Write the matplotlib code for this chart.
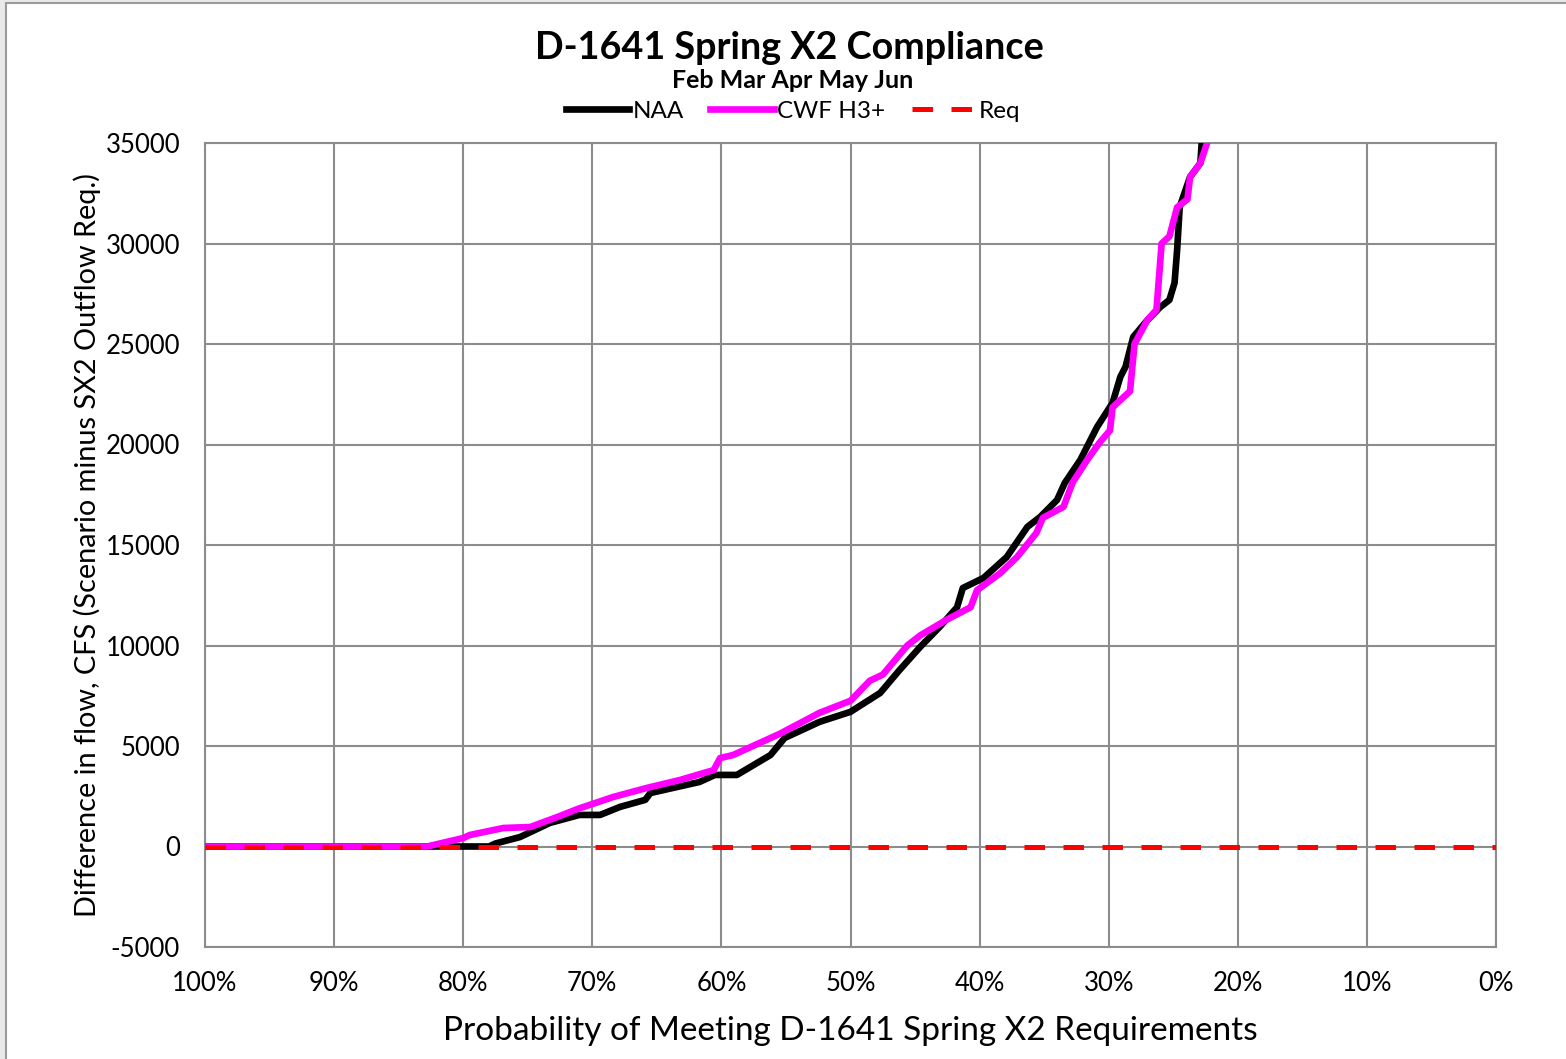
import matplotlib
matplotlib.use("Agg")
import matplotlib.pyplot as plt
from matplotlib.patches import Rectangle

plt.rcParams['font.family'] = ['Lato', 'DejaVu Sans']

# ---- data (probability %, difference in flow cfs) ----
naa_prob = [100, 78.0, 77.5, 75.6, 73.3, 71.0, 69.4, 67.85, 65.9, 65.5, 61.7, 60.5,
            58.8, 56.2, 55.1, 52.4, 50.0, 47.7, 46.2, 44.6, 43.1, 41.75, 41.3, 39.7,
            37.9, 36.3, 35.3, 34.0, 33.4, 32.2, 30.9, 29.7, 29.1, 28.7, 28.1, 27.0,
            26.0, 25.3, 24.9, 24.7, 24.5, 23.7, 22.9, 22.8, 22.0]
naa_vals = [0, 0, 150, 470, 1170, 1570, 1570, 1970, 2320, 2660, 3210, 3560,
            3560, 4550, 5400, 6200, 6700, 7640, 8780, 9930, 10920, 11900, 12860, 13360,
            14400, 15900, 16400, 17240, 18090, 19230, 20870, 22070, 23360, 23860, 25350, 26190,
            26840, 27190, 28040, 29680, 31820, 33310, 34000, 35000, 37000]

cwf_prob = [100, 82.8, 80.0, 79.5, 76.9, 74.8, 72.7, 71.0, 70.2, 68.4, 65.8, 63.2,
            60.6, 60.1, 59.1, 55.5, 52.4, 50.0, 48.5, 47.5, 45.6, 44.6, 42.5, 40.7,
            40.2, 38.4, 37.1, 35.6, 35.1, 33.5, 32.8, 31.7, 30.7, 29.9, 29.7, 28.35,
            28.0, 27.0, 26.3, 25.9, 25.3, 24.7, 23.9, 23.7, 22.9, 22.3, 21.5]
cwf_vals = [0, 0, 420, 570, 920, 970, 1470, 1900, 2070, 2460, 2910, 3310,
            3800, 4400, 4550, 5600, 6650, 7250, 8250, 8550, 10000, 10500, 11300, 11900,
            12750, 13600, 14400, 15600, 16350, 16900, 18100, 19200, 20100, 20700, 21850, 22650,
            25000, 26200, 26700, 30000, 30350, 31800, 32200, 33300, 34000, 35150, 37000]

req_prob = [100, 0]
req_vals = [0, 0]

x_ticks = [100, 90, 80, 70, 60, 50, 40, 30, 20, 10, 0]
x_tick_labels = ['100%', '90%', '80%', '70%', '60%', '50%', '40%', '30%', '20%', '10%', '0%']
y_ticks = [-5000, 0, 5000, 10000, 15000, 20000, 25000, 30000, 35000]
y_tick_labels = ['-5000', '0', '5000', '10000', '15000', '20000', '25000', '30000', '35000']

W, H = 1566, 1059
fig = plt.figure(figsize=(W / 100, H / 100), dpi=100)
fig.patch.set_facecolor('#e9e9e9')
bg = Rectangle((6 / W, -0.05), 1.05, 1.05 - 3 / H, transform=fig.transFigure,
               facecolor='white', edgecolor='#9a9a9a', linewidth=1.5, zorder=-10)
fig.patches.append(bg)

ax = fig.add_axes([205 / W, 1 - 947 / H, (1496 - 205) / W, (947 - 143) / H], zorder=2)
ax.set_facecolor('white')

grid_c = '#8c8c8c'
ax.plot(naa_prob, naa_vals, color='black', lw=4.8, label='NAA', zorder=3, solid_joinstyle='round')
ax.plot(cwf_prob, cwf_vals, color='#ff00ff', lw=4.8, label='CWF H3+', zorder=4, solid_joinstyle='round')
ax.plot(req_prob, req_vals, color='#ff0000', lw=3.6, dashes=(4.1, 3.7), label='Req', zorder=5,
        dash_capstyle='butt')

ax.set_xlim(100, 0)
ax.set_ylim(-5000, 35000)
ax.set_xticks(x_ticks)
ax.set_xticklabels(x_tick_labels)
ax.set_yticks(y_ticks)
ax.set_yticklabels(y_tick_labels)
ax.tick_params(axis='both', length=0, labelsize=18.5, colors='black')
ax.tick_params(axis='y', pad=18)
ax.tick_params(axis='x', pad=17)
ax.grid(True, color=grid_c, lw=1.5, zorder=1)
ax.set_axisbelow(True)
for s in ax.spines.values():
    s.set_color(grid_c)
    s.set_linewidth(1.5)

ax.set_xlabel('Probability of Meeting D-1641 Spring X2 Requirements', fontsize=24, labelpad=15)
ax.set_ylabel('Difference in flow, CFS (Scenario minus SX2 Outflow Req.)', fontsize=20.8, labelpad=3)

fig.text(789 / W, 1 - 48 / H, 'D-1641 Spring X2 Compliance', ha='center', va='center',
         fontsize=27.2, fontweight='bold')
fig.text(793 / W, 1 - 81 / H, 'Feb Mar Apr May Jun', ha='center', va='center',
         fontsize=18, fontweight='bold')

leg = ax.legend(loc='center', bbox_to_anchor=(793 / W, 1 - 111 / H), bbox_transform=fig.transFigure,
                ncol=3, frameon=False, fontsize=17.5, handlelength=2.6, handletextpad=0.15,
                columnspacing=1.1)

fig.savefig('out.png', dpi=100, facecolor=fig.get_facecolor())
